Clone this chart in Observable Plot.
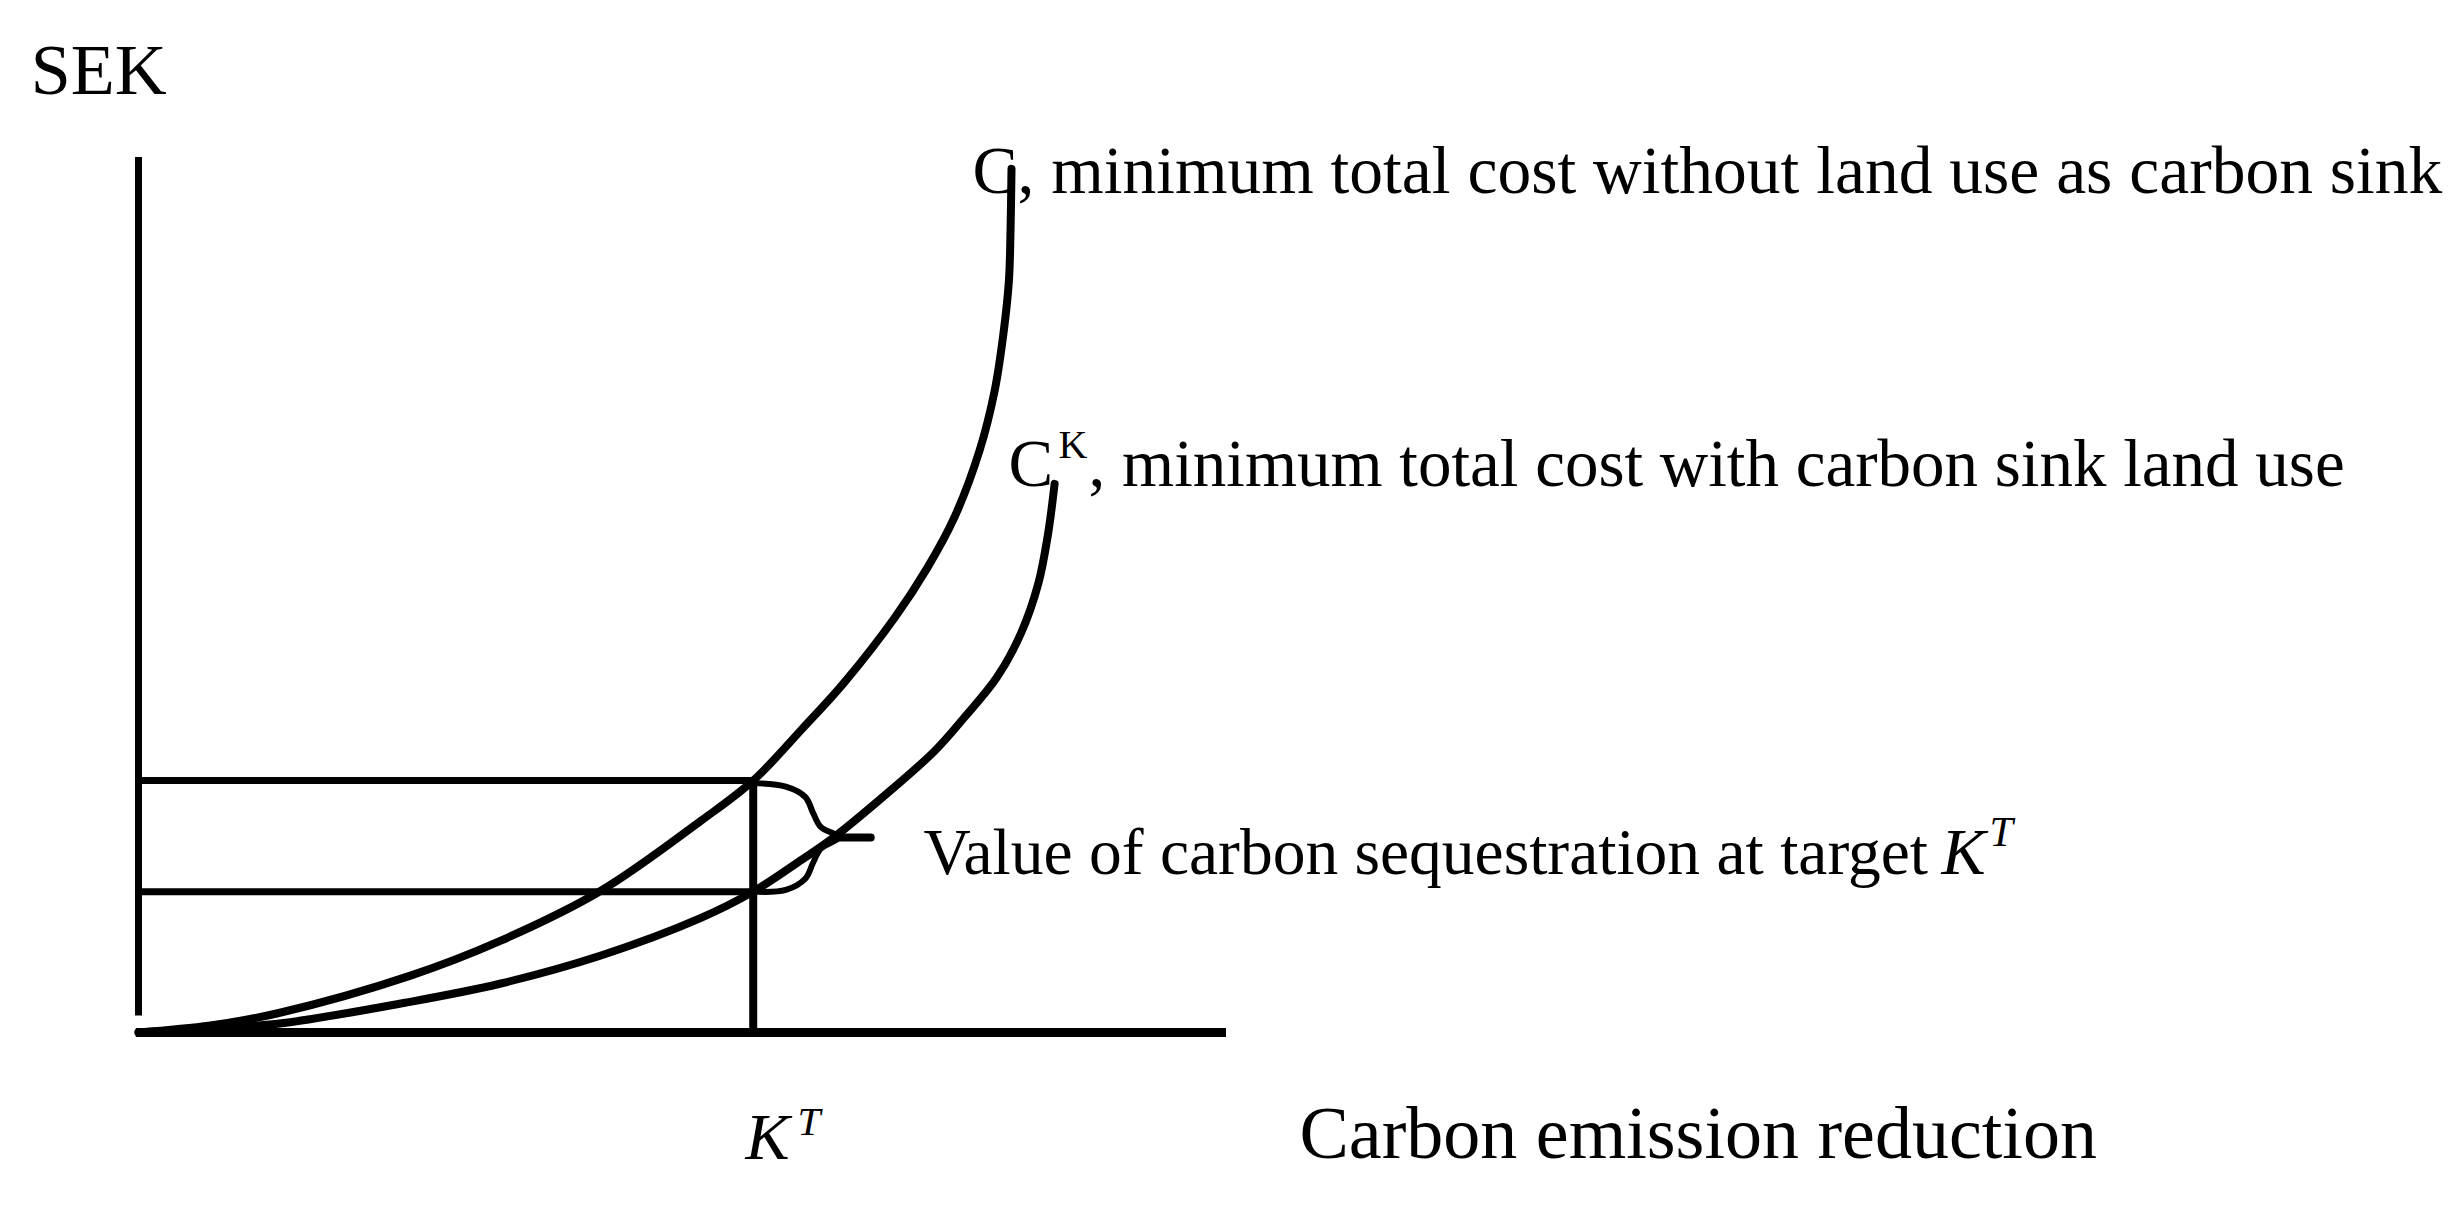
<!DOCTYPE html>
<html>
<head>
<meta charset="utf-8">
<script src="https://cdn.jsdelivr.net/npm/d3@7"></script>
<script src="https://cdn.jsdelivr.net/npm/@observablehq/plot@0.6"></script>
<style>
  html, body { margin: 0; padding: 0; background: #fff; }
</style>
</head>
<body>
<div id="chart"></div>
<script>
// Abstract units: emission reduction on x (0..10), SEK on y (0..10)
const targetKT = 5.65;

// C: minimum total cost without land use as carbon sink
const costX = [0, 0.66, 1.28, 2.50, 3.33, 4.25, 5.17, 5.65, 6.10, 6.48, 6.95, 7.25, 7.50, 7.73, 7.87, 7.95, 8.00, 8.015, 8.024];
const costY = [0, 0.08, 0.22, 0.65, 1.05, 1.62, 2.42, 2.88, 3.47, 3.99, 4.74, 5.31, 5.89, 6.65, 7.34, 7.99, 8.59, 9.17, 9.87];

// C^K: minimum total cost with carbon sink land use
const sinkX = [0, 0.66, 1.28, 2.45, 3.33, 4.25, 5.17, 5.65, 6.09, 6.38, 6.84, 7.32, 7.59, 7.89, 8.11, 8.27, 8.36, 8.42];
const sinkY = [0, 0.05, 0.10, 0.34, 0.56, 0.88, 1.31, 1.61, 1.97, 2.22, 2.69, 3.22, 3.60, 4.06, 4.56, 5.13, 5.70, 6.27];

// cost levels at the target
const costAtKT = 2.88;
const sinkAtKT = 1.61;

// brace between the two cost levels
const braceX = [5.65, 5.95, 6.13, 6.20, 6.27, 6.43, 6.27, 6.20, 6.13, 5.95, 5.65];
const braceY = [2.85, 2.81, 2.69, 2.51, 2.35, 2.23, 2.10, 1.94, 1.76, 1.63, 1.61];
const stubX = [6.43, 6.73];
const stubY = [2.23, 2.23];

const cost = costX.map((x, i) => ({x, y: costY[i]}));
const sink = sinkX.map((x, i) => ({x, y: sinkY[i]}));
const brace = braceX.map((x, i) => ({x, y: braceY[i]}));
const stub = stubX.map((x, i) => ({x, y: stubY[i]}));

// label texts and anchors (data units)
const labelsRoman = [
  {text: "SEK", x: -0.99, y: 10.73, size: 72},
  {text: "C, minimum total cost without land use as carbon sink", x: 7.665, y: 9.60, size: 67.5},
  {text: "C", x: 7.996, y: 6.251, size: 67},
  {text: ", minimum total cost with carbon sink land use", x: 8.732, y: 6.251, size: 67},
  {text: "Value of carbon sequestration at target", x: 7.215, y: 1.817, size: 65.5},
  {text: "Carbon emission reduction", x: 10.671, y: -1.429, size: 74}
];
const labelsSuper = [
  {text: "K", x: 8.456, y: 6.571, size: 40, italic: false},
  {text: "K", x: 16.572, y: 1.817, size: 66, italic: true},
  {text: "T", x: 17.013, y: 2.137, size: 42, italic: true},
  {text: "K", x: 5.579, y: -1.44, size: 66, italic: true},
  {text: "T", x: 6.057, y: -1.177, size: 41, italic: true}
];

const textMarks = [];
for (const d of labelsRoman) {
  textMarks.push(Plot.text([d], {x: "x", y: "y", text: "text", textAnchor: "start", lineAnchor: "bottom", fontSize: d.size, fill: "black"}));
}
for (const d of labelsSuper) {
  textMarks.push(Plot.text([d], {x: "x", y: "y", text: "text", textAnchor: "start", lineAnchor: "bottom", fontSize: d.size, fontStyle: d.italic ? "italic" : "normal", fill: "black"}));
}

const chart = Plot.plot({
  width: 2461,
  height: 1217,
  marginLeft: 138,
  marginRight: 1235,
  marginTop: 157,
  marginBottom: 185,
  x: {domain: [0, 10], axis: null},
  y: {domain: [0, 10], axis: null},
  style: {fontFamily: "'Liberation Serif', 'Times New Roman', serif", background: "white", color: "black", overflow: "visible"},
  marks: [
    // axes
    Plot.ruleX([0], {y1: 0.19, y2: 10, stroke: "black", strokeWidth: 7}),
    Plot.ruleY([0], {x1: -0.02, x2: 10, stroke: "black", strokeWidth: 9}),
    // target lines
    Plot.ruleY([costAtKT, sinkAtKT], {x1: 0, x2: targetKT, stroke: "black", strokeWidth: 7}),
    Plot.ruleX([targetKT], {y1: 0, y2: costAtKT, stroke: "black", strokeWidth: 8}),
    // curves
    Plot.line(cost, {x: "x", y: "y", curve: "catmull-rom", stroke: "black", strokeWidth: 8}),
    Plot.line(sink, {x: "x", y: "y", curve: "catmull-rom", stroke: "black", strokeWidth: 8}),
    // brace
    Plot.line(brace, {x: "x", y: "y", curve: "catmull-rom", stroke: "black", strokeWidth: 6}),
    Plot.line(stub, {x: "x", y: "y", stroke: "black", strokeWidth: 8}),
    ...textMarks
  ]
});
document.getElementById("chart").appendChild(chart);
</script>
</body>
</html>
